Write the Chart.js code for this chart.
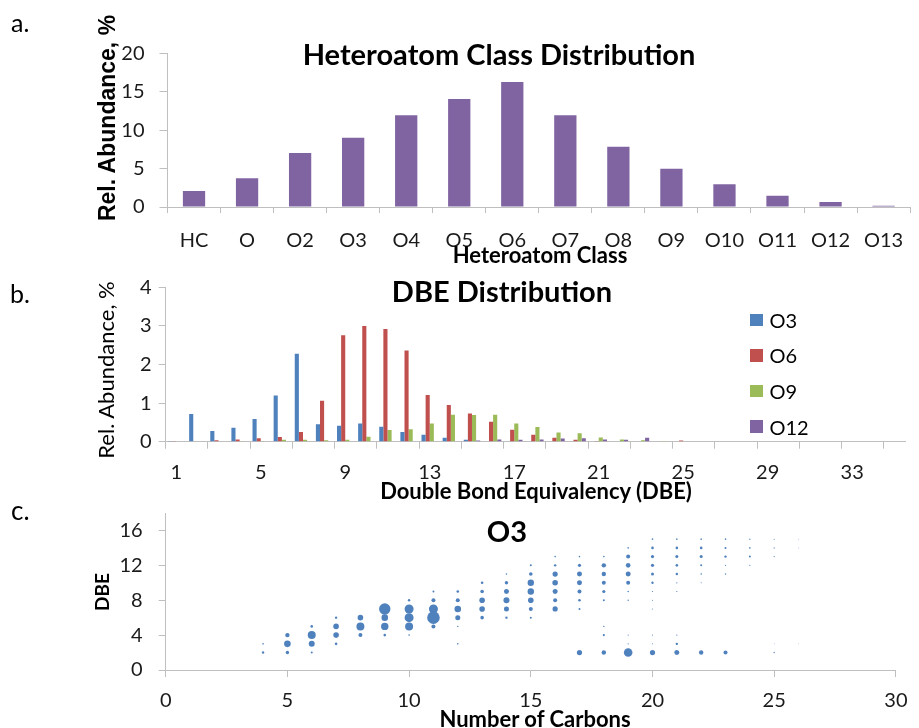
<!DOCTYPE html>
<html>
<head>
<meta charset="utf-8">
<script src="https://cdn.jsdelivr.net/npm/chart.js@4.4.1/dist/chart.umd.min.js"></script>
<style>
  body { margin: 0; background: #fff; }
  #page { position: relative; width: 919px; height: 728px; overflow: hidden; font-family: Lato, sans-serif; color: #000; }
  canvas { position: absolute; left: 0; }
  .txt { position: absolute; white-space: nowrap; line-height: 1; }
  .center { transform: translateX(-50%); }
  .vert { transform: translate(-50%, -50%) rotate(-90deg); }
  .panel { font-size: 25px; }
  .title { font-size: 29px; font-weight: bold; }
  .axis { font-size: 22px; font-weight: bold; }
  #legend { position: absolute; left: 750px; top: 302px; }
  #legend .row { display: flex; align-items: center; height: 35.6px; font-size: 20px; }
  #legend .box { width: 12.5px; height: 12.5px; margin-right: 7px; }
</style>
</head>
<body>
<div id="page">
  <canvas id="classChart" width="919" height="265" style="top:0"></canvas>
  <canvas id="dbeChart" width="919" height="235" style="top:265px"></canvas>
  <canvas id="o3Chart" width="919" height="243" style="top:485px"></canvas>

  <div class="txt panel" style="left:11px; top:10px">a.</div>
  <div class="txt panel" style="left:10px; top:281px">b.</div>
  <div class="txt panel" style="left:11px; top:497px; font-size:26px">c.</div>

  <div class="txt title center" style="left:499px; top:39px">Heteroatom Class Distribution</div>
  <div class="txt title center" style="left:502px; top:276px">DBE Distribution</div>
  <div class="txt title center" style="left:507px; top:516px">O3</div>

  <div class="txt vert" style="left:107px; top:118px; font: bold 23px 'Liberation Sans', Arial, sans-serif">Rel. Abundance, %</div>
  <div class="txt vert" style="left:106px; top:370px; font-size:22px">Rel. Abundance, %</div>
  <div class="txt vert axis" style="left:101px; top:592px; font-size:19px">DBE</div>

  <div class="txt axis center" style="left:540px; top:244px">Heteroatom Class</div>
  <div class="txt axis center" style="left:536px; top:480px">Double Bond Equivalency (DBE)</div>
  <div class="txt axis center" style="left:535px; top:708px">Number of Carbons</div>

  <div id="legend"></div>
</div>
<script>
// heteroatom class distribution (%)
const classLabels = ['HC', 'O', 'O2', 'O3', 'O4', 'O5', 'O6', 'O7', 'O8', 'O9', 'O10', 'O11', 'O12', 'O13'];
const classAbundance = [2.08, 3.73, 7.03, 9.02, 11.93, 14.06, 16.27, 11.93, 7.85, 4.99, 2.95, 1.48, 0.65, 0.17];

// DBE distribution per class (%), DBE 1..35
const dbeLabels = ['1', '2', '3', '4', '5', '6', '7', '8', '9', '10', '11', '12', '13', '14', '15', '16', '17', '18',
  '19', '20', '21', '22', '23', '24', '25', '26', '27', '28', '29', '30', '31', '32', '33', '34', '35'];
const seriesNames = ['O3', 'O6', 'O9', 'O12'];
const dbeO3 = [0.02, 0.72, 0.28, 0.36, 0.59, 1.20, 2.28, 0.45, 0.41, 0.47, 0.39, 0.25, 0.18, 0.10, 0.05, 0.01, 0, 0,
  0.01, 0, 0, 0.01, 0.01, 0, 0.01, 0.01, 0.01, 0, 0.01, 0, 0, 0, 0, 0, 0];
const dbeO6 = [0.02, 0.01, 0.04, 0.06, 0.09, 0.12, 0.25, 1.06, 2.76, 3.00, 2.92, 2.36, 1.21, 0.95, 0.73, 0.52, 0.31, 0.18,
  0.10, 0.05, 0.02, 0.01, 0, 0.01, 0.03, 0, 0, 0, 0, 0, 0, 0, 0, 0, 0];
const dbeO9 = [0.01, 0, 0.01, 0.02, 0.02, 0.05, 0.05, 0.04, 0.05, 0.13, 0.30, 0.32, 0.47, 0.70, 0.69, 0.70, 0.47, 0.38,
  0.24, 0.22, 0.11, 0.06, 0.04, 0.02, 0.01, 0, 0, 0, 0, 0.01, 0, 0, 0, 0.01, 0];
const dbeO12 = [0.01, 0, 0, 0, 0.01, 0.01, 0.01, 0, 0, 0, 0, 0, 0.01, 0.01, 0.03, 0.06, 0.05, 0.06,
  0.08, 0.09, 0.06, 0.05, 0.10, 0.01, 0.01, 0.01, 0, 0, 0, 0, 0, 0, 0.01, 0, 0.01];

// O3 class: [carbon number, DBE, relative abundance]
const o3Points = [
  [4, 3, 0.12], [4, 2, 0.27],
  [5, 4, 0.91], [5, 3, 2.06], [5, 2, 0.55],
  [6, 5, 0.32], [6, 4, 3.02], [6, 3, 1.70], [6, 2, 0.19],
  [7, 6, 0.27], [7, 5, 1.48], [7, 4, 1.48], [7, 3, 0.32],
  [8, 6, 1.48], [8, 5, 3.02], [8, 4, 0.76],
  [9, 7, 6.14], [9, 6, 2.06], [9, 5, 2.59], [9, 4, 0.32],
  [10, 8, 0.27], [10, 7, 3.83], [10, 6, 3.83], [10, 5, 3.02], [10, 4, 0.12],
  [11, 9, 0.19], [11, 8, 0.76], [11, 7, 3.83], [11, 6, 7.50], [11, 5, 0.76],
  [12, 9, 0.32], [12, 8, 0.76], [12, 7, 2.06], [12, 6, 1.18], [12, 5, 0.09], [12, 3, 0.12],
  [13, 10, 0.32], [13, 9, 0.61], [13, 8, 1.48], [13, 7, 1.48], [13, 6, 0.61],
  [14, 11, 0.12], [14, 10, 0.55], [14, 9, 1.18], [14, 8, 1.70], [14, 7, 1.18], [14, 6, 0.27],
  [15, 12, 0.19], [15, 11, 0.61], [15, 10, 1.94], [15, 9, 1.94], [15, 8, 1.48], [15, 7, 0.76], [15, 6, 0.19],
  [16, 13, 0.12], [16, 12, 0.27], [16, 11, 1.28], [16, 10, 1.48], [16, 9, 1.18], [16, 8, 0.76], [16, 7, 1.28],
  [17, 13, 0.12], [17, 12, 0.48], [17, 11, 1.18], [17, 10, 1.18], [17, 9, 0.76], [17, 8, 0.32], [17, 7, 0.19], [17, 2, 1.28],
  [18, 13, 0.12], [18, 12, 0.91], [18, 11, 0.91], [18, 10, 0.76], [18, 9, 0.48], [18, 8, 0.19], [18, 5, 0.09], [18, 4, 0.23], [18, 2, 0.91],
  [19, 14, 0.12], [19, 13, 0.76], [19, 12, 1.00], [19, 11, 1.18], [19, 10, 0.76], [19, 9, 0.12], [19, 8, 0.09], [19, 4, 0.05], [19, 3, 0.07], [19, 2, 3.50],
  [20, 15, 0.12], [20, 14, 0.32], [20, 13, 0.48], [20, 12, 0.48], [20, 11, 0.43], [20, 10, 0.27], [20, 9, 0.07], [20, 8, 0.05], [20, 7, 0.05], [20, 4, 0.05], [20, 3, 0.05], [20, 2, 1.28],
  [21, 15, 0.12], [21, 14, 0.32], [21, 13, 0.43], [21, 12, 0.32], [21, 11, 0.27], [21, 10, 0.07], [21, 9, 0.07], [21, 4, 0.07], [21, 3, 0.27], [21, 2, 1.18],
  [22, 15, 0.12], [22, 14, 0.32], [22, 13, 0.43], [22, 12, 0.19], [22, 11, 0.12], [22, 10, 0.05], [22, 2, 0.91],
  [23, 15, 0.12], [23, 14, 0.19], [23, 13, 0.27], [23, 12, 0.07], [23, 11, 0.09], [23, 2, 0.76],
  [24, 15, 0.09], [24, 14, 0.12], [24, 13, 0.19], [24, 12, 0.07],
  [25, 15, 0.05], [25, 14, 0.07], [25, 13, 0.07], [25, 3, 0.03], [25, 2, 0.09],
  [26, 15, 0.03], [26, 14, 0.03], [26, 3, 0.02]
];

const seriesColors = ['#4F81BD', '#C0504D', '#9BBB59', '#8064A2'];
const axisGray = '#BFBFBF';
const none = 'rgba(0,0,0,0)';

Chart.defaults.font.family = 'Lato';
Chart.defaults.font.size = 20;
Chart.defaults.color = '#1a1a1a';

const base = {
  responsive: false,
  animation: false,
  devicePixelRatio: 1,
  plugins: { legend: { display: false }, tooltip: { enabled: false } }
};

// a. class distribution
new Chart(document.getElementById('classChart'), {
  type: 'bar',
  data: {
    labels: classLabels,
    datasets: [{
      data: classAbundance,
      backgroundColor: seriesColors[3],
      categoryPercentage: 1,
      barPercentage: 0.42
    }]
  },
  options: {
    ...base,
    layout: { padding: { left: 60, right: 8.5, top: 53.3, bottom: 0 } },
    scales: {
      x: {
        grid: { offset: true, drawOnChartArea: false, tickLength: 6, color: axisGray },
        border: { color: axisGray },
        ticks: { autoSkip: false, maxRotation: 0, padding: 15.5 },
        afterFit: s => { s.height = 58; }
      },
      y: {
        min: 0, max: 20,
        grid: { drawOnChartArea: false, tickLength: 8, color: axisGray },
        border: { color: axisGray },
        ticks: { stepSize: 5, padding: 15 },
        afterFit: s => { s.width = 107.5; }
      }
    }
  }
});

// b. DBE distribution for four classes
const dbeSeries = [dbeO3, dbeO6, dbeO9, dbeO12];
new Chart(document.getElementById('dbeChart'), {
  type: 'bar',
  data: {
    labels: dbeLabels,
    datasets: dbeSeries.map((vals, i) => ({
      label: seriesNames[i],
      data: vals,
      backgroundColor: seriesColors[i],
      categoryPercentage: 0.78,
      barPercentage: 1
    }))
  },
  options: {
    ...base,
    layout: { padding: { left: 60, right: 14, top: 22.3, bottom: 0 } },
    scales: {
      x: {
        grid: {
          offset: true, drawOnChartArea: false, tickLength: 7, color: axisGray,
          tickColor: ctx => ctx.index % 2 === 0 ? axisGray : none
        },
        border: { color: axisGray },
        ticks: {
          autoSkip: false, maxRotation: 0, padding: 12,
          callback: (v, i) => i % 4 === 0 ? dbeLabels[i] : ''
        },
        afterFit: s => { s.height = 58.3; }
      },
      y: {
        min: 0, max: 4,
        grid: { drawOnChartArea: false, tickLength: 7, color: axisGray },
        border: { color: axisGray },
        ticks: { stepSize: 1, padding: 7 },
        afterFit: s => { s.width = 105.7; }
      }
    }
  }
});

// c. O3 carbon number vs DBE, bubble area ~ abundance
const bubbleRadius = a => 2.3 * Math.sqrt(a);
new Chart(document.getElementById('o3Chart'), {
  type: 'bubble',
  data: {
    datasets: [{
      label: 'O3',
      data: o3Points.map(([c, d, a]) => ({ x: c, y: d, r: bubbleRadius(a) })),
      backgroundColor: seriesColors[0],
      borderWidth: 0,
      clip: false
    }]
  },
  options: {
    ...base,
    layout: { padding: { left: 60, right: 14, top: 24.4, bottom: 0 } },
    scales: {
      x: {
        type: 'linear', min: 0, max: 30,
        grid: { drawOnChartArea: false, tickLength: 7, color: axisGray },
        border: { color: axisGray },
        ticks: { stepSize: 5, padding: 11.5, maxRotation: 0 },
        afterFit: s => { s.height = 58; }
      },
      y: {
        min: 0, max: 18,
        grid: { drawOnChartArea: false, tickLength: 7, color: axisGray },
        border: { color: axisGray },
        ticks: { stepSize: 4, padding: 16, includeBounds: false },
        afterFit: s => { s.width = 105.7; }
      }
    }
  }
});

// legend for panel b, drawn over the plot area
const legend = document.getElementById('legend');
seriesNames.forEach((name, i) => {
  const row = document.createElement('div');
  row.className = 'row';
  row.innerHTML = '<span class="box" style="background:' + seriesColors[i] + '"></span><span>' + name + '</span>';
  legend.appendChild(row);
});
</script>
</body>
</html>
